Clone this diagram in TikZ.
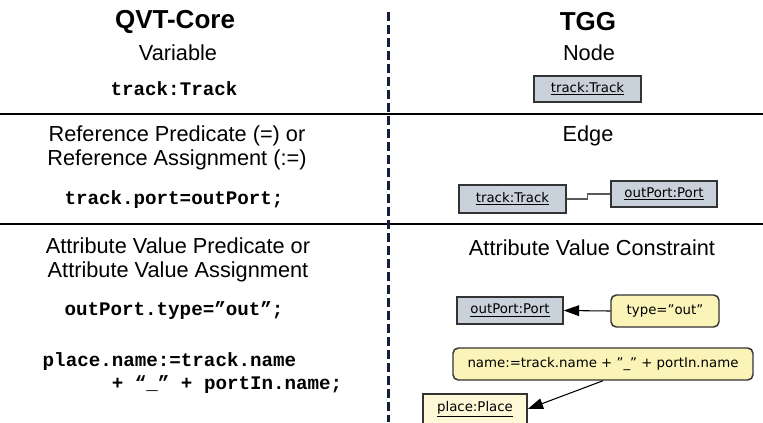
\documentclass[tikz,border=0pt]{standalone}
\usepackage{fontspec}
\setmainfont{Liberation Sans}
\setmonofont{Liberation Mono}
\newfontfamily\boxfont{DejaVu Sans}
\usetikzlibrary{arrows.meta}
\definecolor{nodegray}{HTML}{C9D1DB}
\definecolor{consyellow}{HTML}{FBF4B8}
\definecolor{placecream}{HTML}{FEF8D6}
\definecolor{divider}{HTML}{14203A}
\tikzset{
	head/.style={font=\fontsize{19.5}{22}\selectfont\bfseries},
	lbl/.style={font=\fontsize{16.3}{18}\selectfont, align=center},
	code/.style={font=\fontsize{14.4}{17}\selectfont\ttfamily\bfseries},
	obj/.style={draw=black!80, line width=1.1pt, fill=nodegray, inner sep=0pt,
		font=\fontsize{10}{12}\selectfont\boxfont},
	cons/.style={obj, fill=consyellow, rounded corners=4pt},
	arr/.style={-{Triangle[length=11.5pt,width=8pt]}, line width=0.8pt},
}
\begin{document}
\begin{tikzpicture}[x=0.75pt,y=-0.75pt]
	\useasboundingbox (0,0) rectangle (763,422);
	\clip (0,0) rectangle (763,422);
	\draw[line width=1.5pt] (0,114) -- (763,114);
	\draw[line width=1.5pt] (0,224) -- (763,224);
	\draw[divider, line width=2.25pt, dash pattern=on 6.75pt off 3pt] (388,12) -- (388,422);

	\node[head] (qvt) at (175,22) {QVT-Core};
	\node[head] (tgg) at (588,22) {TGG};

	\node[lbl] (variable) at (178,53) {Variable};
	\node[code] (varcode) at (174,89) {track:Track};
	\node[lbl] (nodelbl) at (589,53) {Node};
	\node[obj, minimum width=80pt, minimum height=19.5pt] (nodeTrack) at (587.5,89) {\underline{track:Track}};

	\node[lbl] (reflbl) at (177,148) {Reference Predicate (=) or\\Reference Assignment (:=)};
	\node[code] (refcode) at (174,200) {track.port=outPort;};
	\node[lbl] (edgelbl) at (588,136) {Edge};
	\node[obj, minimum width=80pt, minimum height=21pt] (edgeTrack) at (512.5,199) {\underline{track:Track}};
	\node[obj, minimum width=79.5pt, minimum height=19.5pt] (edgePort) at (664,194) {\underline{outPort:Port}};
	\draw[black!65, line width=0.8pt] (edgeTrack.east) -- ++(21,0) |- (edgePort.west);

	\node[lbl] (attrlbl) at (178,260) {Attribute Value Predicate or\\Attribute Value Assignment};
	\node[code] (typecode) at (174,311) {outPort.type=”out”;};
	\node[code, anchor=west, align=left] (namecode) at (38,373) {place.name:=track.name\\\phantom{xxxxxx}+ “\_” + portIn.name;};
	\node[lbl] (conslbl) at (592,248) {Attribute Value Constraint};
	\node[obj, minimum width=79.5pt, minimum height=20pt] (attrPort) at (510,310.5) {\underline{outPort:Port}};
	\node[cons, minimum width=81pt, minimum height=24pt] (typeBox) at (665,311) {type=”out”};
	\node[cons, minimum width=225pt, minimum height=24pt] (nameBox) at (603,364) {name:=track.name + ”\_” + portIn.name};
	\node[obj, fill=placecream, minimum width=78pt, minimum height=22.5pt] (placeBox) at (475,409) {\underline{place:Place}};
	\draw[arr] (typeBox.west) -- (attrPort.east);
	\draw[arr] (nameBox.south) -- (placeBox.east);
\end{tikzpicture}
\end{document}
